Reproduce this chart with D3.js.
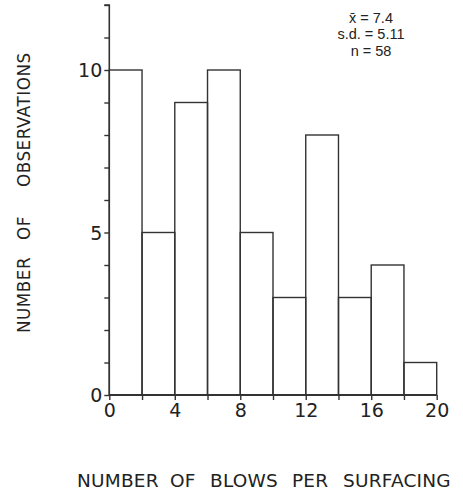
<!DOCTYPE html>
<html><head><meta charset="utf-8">
<script src="https://cdn.jsdelivr.net/npm/d3@7"></script>
<style>body{margin:0;background:#fff}svg{display:block}text{fill:#222}</style>
</head><body>
<script>
const binStarts = [0,2,4,6,8,10,12,14,16,18];
const binWidth = 2;
const counts = [10,5,9,10,5,3,8,3,4,1];
const xTickLabels = [0,4,8,12,16,20];
const yTickLabels = [0,5,10];
const statsLines = ["x\u0304 = 7.4","s.d. = 5.11","n = 58"];
const xTitleWords = ["NUMBER","OF","BLOWS","PER","SURFACING"];
const yTitleWords = ["NUMBER","OF","OBSERVATIONS"];

const W=463,H=495;
const svg=d3.select("body").append("svg").attr("width",W).attr("height",H);
const x=d3.scaleLinear().domain([0,20]).range([109.3,436.7]);
const y=d3.scaleLinear().domain([0,12]).range([395,5]);
const col="#333";
const lab='"DejaVu Sans",sans-serif';
const lib='"Liberation Sans",Arial,sans-serif';

// bars
svg.selectAll("rect.bar").data(counts).enter().append("rect")
 .attr("x",(d,i)=>x(binStarts[i])).attr("width",(d,i)=>x(binStarts[i]+binWidth)-x(binStarts[i]))
 .attr("y",d=>y(d)).attr("height",d=>y(0)-y(d))
 .attr("fill","none").attr("stroke",col).attr("stroke-width",1.4);

// y axis
const yAxis=d3.axisLeft(y).tickValues(d3.range(0,13)).tickSize(5)
 .tickFormat(d=>yTickLabels.includes(d)?d:"");
const gy=svg.append("g").attr("transform",`translate(${x(0)},0)`).call(yAxis);
gy.select(".domain").attr("stroke",col).attr("stroke-width",1.6).attr("d",`M-5,${y(12)}H0V${y(0)}`);
gy.selectAll(".tick line").attr("stroke",col).attr("stroke-width",1.4);
gy.selectAll(".tick text").style("font-size","19px").style("font-family",lab).attr("fill","#222").attr("x",-7).attr("dy","0.36em");

// x axis
const xAxis=d3.axisBottom(x).tickValues(d3.range(0,21,2)).tickSize(5)
 .tickFormat(d=>xTickLabels.includes(d)?d:"");
const gx=svg.append("g").attr("transform",`translate(0,${y(0)})`).call(xAxis);
gx.select(".domain").attr("stroke",col).attr("stroke-width",1.8).attr("d",`M${x(0)},0H${x(20)}`);
gx.selectAll(".tick line").attr("stroke",col).attr("stroke-width",1.4);
gx.selectAll(".tick text").style("font-size","19px").style("font-family",lab).attr("fill","#222").attr("y",22).attr("dy",0);

// stats
svg.append("g").selectAll("text").data(statsLines).enter().append("text")
 .attr("x",371).attr("y",(d,i)=>23+i*16.3).attr("text-anchor","middle")
 .style("font-family",lib).style("font-size","14.5px").text(d=>d);

// x title
const xPos=[77,170,210,292,343];
const xt=svg.append("text").attr("y",487).style("font-family",lab).style("font-size","18.5px").style("letter-spacing","0.2px");
xt.selectAll("tspan").data(xTitleWords).enter().append("tspan").attr("x",(d,i)=>xPos[i]).text(d=>d);

// y title
const yPos=[0,93,146];
const yt=svg.append("text").attr("transform","translate(30,333) rotate(-90)")
 .style("font-family",lab).style("font-size","16.8px").style("letter-spacing","0.5px");
yt.selectAll("tspan").data(yTitleWords).enter().append("tspan").attr("x",(d,i)=>yPos[i]).text(d=>d);
</script>
</body></html>
